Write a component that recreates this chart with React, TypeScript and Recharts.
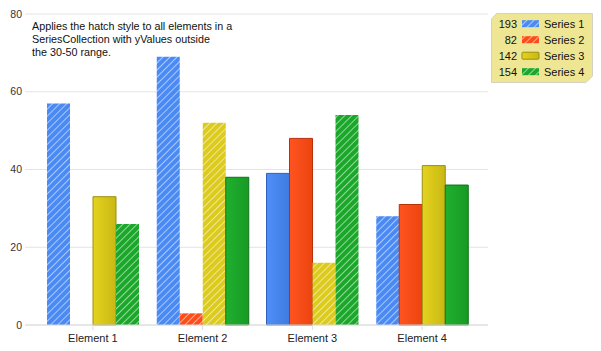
import { BarChart, Bar, XAxis, YAxis, CartesianGrid, Cell } from 'recharts'

const categories = ['Element 1', 'Element 2', 'Element 3', 'Element 4']
const seriesNames = ['Series 1', 'Series 2', 'Series 3', 'Series 4']
const series1 = [57, 69, 39, 28]
const series2 = [0, 3, 48, 31]
const series3 = [33, 52, 16, 41]
const series4 = [26, 38, 54, 36]
const legendTotals = [193, 82, 142, 154]
const legendHatched = [true, true, false, true]
const yTicks = [0, 20, 40, 60, 80]
const noteLines = [
  'Applies the hatch style to all elements in a',
  'SeriesCollection with yValues outside',
  'the 30-50 range.',
]

const allSeries = [series1, series2, series3, series4]
const keys = ['s1', 's2', 's3', 's4']

// base, light, dark, border
const COLORS = [
  { base: '#4a8af4', light: '#4f8ff8', dark: '#3f7be0', border: '#2f5fb8' },
  { base: '#fd4c18', light: '#ff541f', dark: '#ec4410', border: '#b8300a' },
  { base: '#dccb1c', light: '#e4d31e', dark: '#c9b814', border: '#9c8e0c' },
  { base: '#1ba82a', light: '#20b02f', dark: '#179a24', border: '#0f7219' },
]

const FONT = '"Liberation Sans", Arial, sans-serif'

const data = categories.map((name, i) => {
  const row: Record<string, string | number> = { name }
  keys.forEach((k, j) => { row[k] = allSeries[j][i] })
  return row
})

const isHatched = (v: number) => v < 30 || v > 50

function Defs() {
  return (
    <defs>
      {COLORS.map((c, i) => (
        <pattern key={'h' + i} id={'hatch' + i} patternUnits="userSpaceOnUse" width={5} height={5} patternTransform="rotate(45)">
          <rect width={5} height={5} fill={c.base} />
          <line x1={0} y1={0} x2={0} y2={5} stroke="#fff" strokeWidth={1.1} />
        </pattern>
      ))}
      {COLORS.map((c, i) => (
        <linearGradient key={'g' + i} id={'grad' + i} x1="0" y1="0" x2="1" y2="0">
          <stop offset="0%" stopColor={c.light} />
          <stop offset="100%" stopColor={c.dark} />
        </linearGradient>
      ))}
    </defs>
  )
}

function LegendBox() {
  return (
    <svg width={104} height={72} style={{ position: 'absolute', left: 491, top: 13 }}>
      <Defs />
      <polygon
        points="5.5,0.5 101.5,0.5 101.5,63 95,69.5 0.5,69.5 0.5,6"
        fill="#efe693"
        stroke="#d4d2c4"
      />
      {seriesNames.map((s, i) => {
        const cy = 10.7 + 16 * i
        return (
          <g key={s} fontFamily={FONT} fontSize={11} fill="#111">
            <text x={26} y={cy + 4} textAnchor="end">{legendTotals[i]}</text>
            <rect
              x={31} y={cy - 3.5} width={17} height={7}
              fill={legendHatched[i] ? `url(#hatch${i})` : `url(#grad${i})`}
              stroke={legendHatched[i] ? 'none' : COLORS[i].border}
              rx={legendHatched[i] ? 0 : 1}
            />
            <text x={53} y={cy + 4}>{s}</text>
          </g>
        )
      })}
    </svg>
  )
}

export default function App() {
  return (
    <div style={{ position: 'absolute', left: 0, top: 0, width: 601, height: 351, background: '#fff' }}>
      <BarChart
        width={601}
        height={351}
        data={data}
        margin={{ top: 14, right: 113, bottom: 0, left: 0 }}
        barCategoryGap={9}
        barGap={0}
      >
        <Defs />
        <CartesianGrid vertical={false} stroke="#e4e4e4" />
        <XAxis
          dataKey="name"
          height={26}
          padding={{ left: 13, right: 11 }}
          axisLine={{ stroke: '#dcdcdc' }}
          tickLine={{ stroke: '#dcdcdc' }}
          tickSize={5}
          tickMargin={4}
          tick={{ fontSize: 11, fill: '#222', fontFamily: FONT }}
        />
        <YAxis
          domain={[0, 80]}
          ticks={yTicks}
          width={25}
          axisLine={false}
          tickLine={false}
          tickSize={0}
          tickMargin={3}
          tick={{ fontSize: 10.5, fill: '#333', fontFamily: FONT }}
        />
        {keys.map((k, j) => (
          <Bar key={k} dataKey={k} name={seriesNames[j]} isAnimationActive={false}>
            {allSeries[j].map((v, i) => (
              <Cell
                key={i}
                fill={isHatched(v) ? `url(#hatch${j})` : `url(#grad${j})`}
                stroke={isHatched(v) ? 'none' : COLORS[j].border}
                strokeWidth={1}
              />
            ))}
          </Bar>
        ))}
      </BarChart>
      <div
        style={{
          position: 'absolute', left: 32, top: 20, fontFamily: FONT,
          fontSize: 10.75, lineHeight: '13px', color: '#111', pointerEvents: 'none',
        }}
      >
        {noteLines.map((l) => <div key={l}>{l}</div>)}
      </div>
      <LegendBox />
    </div>
  )
}
